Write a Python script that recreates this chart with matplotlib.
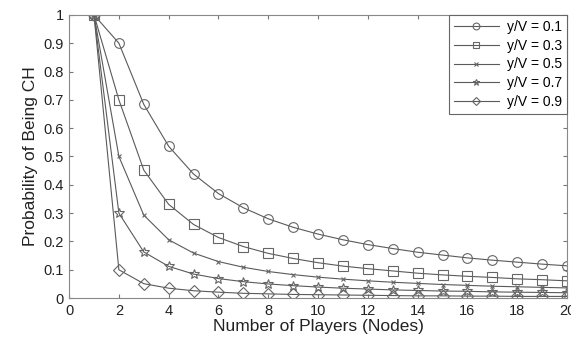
import matplotlib
matplotlib.use('Agg')
import matplotlib.pyplot as plt

plt.rcParams['font.family'] = ['Liberation Sans', 'DejaVu Sans']

nodes = list(range(1, 21))

p_01 = [1, 0.9, 0.684, 0.536, 0.438, 0.369, 0.319, 0.280, 0.250, 0.226, 0.206,
        0.189, 0.175, 0.162, 0.152, 0.142, 0.134, 0.127, 0.120, 0.114]
p_03 = [1, 0.7, 0.452, 0.331, 0.260, 0.214, 0.182, 0.158, 0.140, 0.125, 0.113,
        0.104, 0.096, 0.088, 0.082, 0.077, 0.073, 0.068, 0.065, 0.061]
p_05 = [1, 0.5, 0.293, 0.206, 0.159, 0.129, 0.109, 0.094, 0.083, 0.074, 0.067,
        0.061, 0.056, 0.052, 0.048, 0.045, 0.042, 0.040, 0.038, 0.036]
p_07 = [1, 0.3, 0.163, 0.112, 0.085, 0.069, 0.058, 0.050, 0.044, 0.039, 0.035,
        0.032, 0.029, 0.027, 0.025, 0.024, 0.022, 0.021, 0.020, 0.019]
p_09 = [1, 0.1, 0.051, 0.035, 0.026, 0.021, 0.017, 0.015, 0.013, 0.012, 0.011,
        0.010, 0.009, 0.008, 0.008, 0.007, 0.007, 0.006, 0.006, 0.006]

series = [p_01, p_03, p_05, p_07, p_09]
labels = ['y/V = 0.1', 'y/V = 0.3', 'y/V = 0.5', 'y/V = 0.7', 'y/V = 0.9']
markers = ['o', 's', 'x', '*', 'D']
msizes = [7, 7, 3.5, 7, 6]

fig = plt.figure(figsize=(5.71, 3.38), dpi=100)
ax = fig.add_axes([0.121, 0.118, 0.872, 0.838])

col = '#5a5a5a'
for ys, lab, m, ms in zip(series, labels, markers, msizes):
    ax.plot(nodes, ys, color=col, lw=0.8, marker=m, markersize=ms,
            markerfacecolor='none', markeredgecolor='#666666',
            markeredgewidth=0.8, label=lab)

ax.set_xlim(0, 20)
ax.set_ylim(0, 1)
ax.set_xticks(range(0, 21, 2))
ax.set_yticks([0, 0.1, 0.2, 0.3, 0.4, 0.5, 0.6, 0.7, 0.8, 0.9, 1])
ax.set_yticklabels(['0', '0.1', '0.2', '0.3', '0.4', '0.5', '0.6', '0.7', '0.8', '0.9', '1'])
ax.tick_params(direction='in', top=True, right=True, labelsize=10.5, length=3,
               color='#777777', labelcolor='#222222', pad=4)
for s in ax.spines.values():
    s.set_color('#888888')
    s.set_linewidth(0.8)

ax.set_xlabel('Number of Players (Nodes)', fontsize=12.5, color='#222222', labelpad=1)
ax.set_ylabel('Probability of Being CH', fontsize=12.5, color='#222222', labelpad=4)

leg = ax.legend(loc='upper right', fontsize=10, handlelength=3.2, markerscale=0.7,
                fancybox=False, framealpha=1, borderpad=0.35,
                labelspacing=0.35, borderaxespad=0, handletextpad=0.6)
leg.get_frame().set_edgecolor('#666666')
leg.get_frame().set_linewidth(0.8)

fig.savefig('out.png', dpi=100)
